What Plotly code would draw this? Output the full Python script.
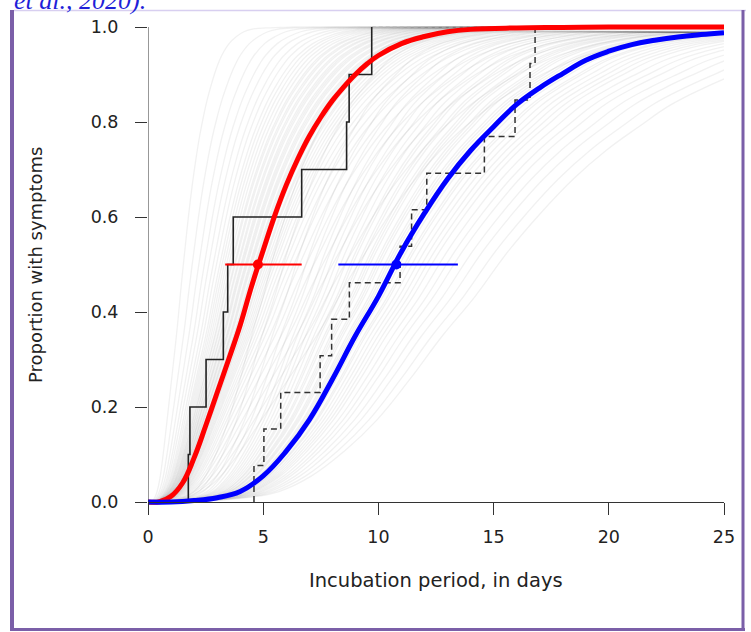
import plotly.graph_objects as go

# ---------------- data ----------------
RED_DAYS = [0, 0.5, 1, 1.5, 2, 2.5, 3, 3.5, 4, 4.5, 5, 5.5, 6, 6.5, 7, 7.5, 8, 8.5, 9, 9.5,
            10, 11, 12, 13, 14, 16, 18, 20, 25]
RED_PROP = [0, 0.0005, 0.012, 0.04, 0.093, 0.16, 0.23, 0.30, 0.372, 0.455, 0.53, 0.603, 0.667,
            0.722, 0.77, 0.81, 0.845, 0.874, 0.9, 0.922, 0.94, 0.965, 0.98, 0.99, 0.995, 0.998,
            0.999, 1.0, 1.0]

BLUE_DAYS = list(range(0, 26))
BLUE_PROP = [0, 0.0, 0.003, 0.009, 0.022, 0.055, 0.107, 0.173, 0.258, 0.35, 0.433, 0.527,
             0.608, 0.68, 0.74, 0.79, 0.837, 0.872, 0.902, 0.93, 0.949, 0.963, 0.972, 0.979,
             0.984, 0.988]

# empirical step functions (day of each jump, proportion after the jump)
SOLID_STEP_DAYS = [1.75, 1.82, 2.52, 3.27, 3.46, 3.7, 6.67, 8.62, 8.73, 9.71]
SOLID_STEP_PROP = [0.1, 0.2, 0.3, 0.4, 0.5, 0.6, 0.7, 0.8, 0.9, 1.0]
DASHED_STEP_DAYS = [4.6, 5.03, 5.76, 7.47, 7.97, 8.74, 10.94, 11.44, 12.1, 14.6, 15.93, 16.58, 16.8]
DASHED_STEP_PROP = [1/13, 2/13, 3/13, 4/13, 5/13, 6/13, 7/13, 8/13, 9/13, 10/13, 11/13, 12/13, 1.0]

# medians with intervals
RED_MEDIAN = 4.77
RED_CI = [3.35, 6.67]
BLUE_MEDIAN = 10.78
BLUE_CI = [8.26, 13.45]
MEDIAN_LEVEL = 0.5

# spread of the faint resampled curves (relative day scale)
HAZE_RED = [0.32, 0.4, 0.46, 0.51, 0.55, 0.59, 0.62, 0.65, 0.67, 0.69, 0.71, 0.73, 0.75, 0.76,
            0.78, 0.79, 0.81, 0.82, 0.84, 0.85, 0.86, 0.88, 0.89, 0.9, 0.92, 0.93, 0.94, 0.96,
            0.97, 0.98, 1.0, 1.01, 1.02, 1.04, 1.05, 1.07, 1.09, 1.11, 1.13, 1.15, 1.18, 1.21,
            1.24, 1.28, 1.32, 1.37, 1.43, 1.5, 1.58, 1.67, 1.78, 1.9]
HAZE_BLUE = [0.5, 0.55, 0.6, 0.64, 0.67, 0.7, 0.72, 0.74, 0.76, 0.78, 0.8, 0.82, 0.83, 0.85,
             0.86, 0.88, 0.89, 0.9, 0.92, 0.93, 0.94, 0.96, 0.97, 0.98, 1.0, 1.01, 1.02, 1.04,
             1.05, 1.07, 1.09, 1.11, 1.13, 1.15, 1.18, 1.21, 1.24, 1.28, 1.32, 1.37, 1.42]

X_TICKS = [0, 5, 10, 15, 20, 25]
Y_TICKS = [0, 0.2, 0.4, 0.6, 0.8, 1.0]
Y_TICK_LABELS = ["0.0", "0.2", "0.4", "0.6", "0.8", "1.0"]
X_TITLE = "Incubation period, in days"
Y_TITLE = "Proportion with symptoms"
CAPTION = "et al., 2020)."

# ---------------- layout geometry ----------------
W, H = 751, 632
ML, MR, MT, MB = 148, 27, 22, 126
PW, PH = W - ML - MR, H - MT - MB
Y_LO, Y_HI = -4 / 475, 1 + 5 / 475


def px_x(p):
    return (p - ML) / PW


def px_y(p):
    return (H - MB - p) / PH


fig = go.Figure()

HAZE_COLOR = "rgba(90,90,90,0.085)"
for f in HAZE_RED:
    xs = [d * f for d in RED_DAYS] + [RED_DAYS[-1]]
    ys = RED_PROP + [RED_PROP[-1]]
    fig.add_trace(go.Scatter(x=xs, y=ys, mode="lines",
                             line=dict(color=HAZE_COLOR, width=1.3, shape="spline", smoothing=1.2),
                             hoverinfo="skip", showlegend=False))
for f in HAZE_BLUE:
    xs = [d * f for d in BLUE_DAYS] + [BLUE_DAYS[-1]]
    ys = BLUE_PROP + [BLUE_PROP[-1]]
    fig.add_trace(go.Scatter(x=xs, y=ys, mode="lines",
                             line=dict(color=HAZE_COLOR, width=1.3, shape="spline", smoothing=1.2),
                             hoverinfo="skip", showlegend=False))

# faint top segment at 1.0
fig.add_trace(go.Scatter(x=[SOLID_STEP_DAYS[-1], DASHED_STEP_DAYS[-1]], y=[1.0, 1.0], mode="lines",
                         line=dict(color="#b8b8b8", width=1, dash="4px,3px"), hoverinfo="skip", showlegend=False))

# step functions
fig.add_trace(go.Scatter(x=[SOLID_STEP_DAYS[0]] + SOLID_STEP_DAYS, y=[0] + SOLID_STEP_PROP, mode="lines",
                         line=dict(color="#222222", width=1.6, shape="hv"), showlegend=False))
fig.add_trace(go.Scatter(x=[DASHED_STEP_DAYS[0]] + DASHED_STEP_DAYS, y=[0] + DASHED_STEP_PROP, mode="lines",
                         line=dict(color="#333333", width=1.5, shape="hv", dash="6px,4px"), showlegend=False))

# fitted curves
fig.add_trace(go.Scatter(x=RED_DAYS, y=RED_PROP, mode="lines",
                         line=dict(color="#ff0000", width=5, shape="spline", smoothing=1.2), showlegend=False))
fig.add_trace(go.Scatter(x=BLUE_DAYS, y=BLUE_PROP, mode="lines",
                         line=dict(color="#0000ff", width=5, shape="spline", smoothing=1.2), showlegend=False))

# medians and intervals
fig.add_trace(go.Scatter(x=RED_CI, y=[MEDIAN_LEVEL] * 2, mode="lines",
                         line=dict(color="#ff0000", width=2), showlegend=False))
fig.add_trace(go.Scatter(x=BLUE_CI, y=[MEDIAN_LEVEL] * 2, mode="lines",
                         line=dict(color="#0000ff", width=2), showlegend=False))
fig.add_trace(go.Scatter(x=[RED_MEDIAN], y=[MEDIAN_LEVEL], mode="markers",
                         marker=dict(color="#ff0000", size=10), showlegend=False))
fig.add_trace(go.Scatter(x=[BLUE_MEDIAN], y=[MEDIAN_LEVEL], mode="markers",
                         marker=dict(color="#0000ff", size=10), showlegend=False))

TICK_FONT = dict(family="DejaVu Sans", size=17.5, color="#222222")
fig.update_layout(
    width=W, height=H,
    margin=dict(l=ML, r=MR, t=MT, b=MB, pad=0),
    paper_bgcolor="white", plot_bgcolor="white",
    xaxis=dict(range=[0, 25], tickvals=X_TICKS, ticks="outside", ticklen=12, tickwidth=1,
               tickcolor="#333333", showline=True, linecolor="#333333", linewidth=1,
               showgrid=False, zeroline=False, anchor="free", position=(0 - Y_LO) / (Y_HI - Y_LO),
               tickfont=TICK_FONT, ticklabelstandoff=7),
    yaxis=dict(range=[Y_LO, Y_HI], tickvals=Y_TICKS, ticktext=Y_TICK_LABELS, ticks="outside",
               ticklen=12, tickwidth=1, tickcolor="#333333", showline=False, showgrid=False,
               zeroline=False, tickfont=TICK_FONT, ticklabelstandoff=13),
)

# y axis line spanning 0..1 only
fig.add_shape(type="line", xref="x", yref="y", x0=0, x1=0, y0=0, y1=1,
              line=dict(color="#333333", width=1))

# axis titles
fig.add_annotation(text=X_TITLE, xref="paper", yref="paper", x=0.5, y=px_y(580),
                   xanchor="center", yanchor="middle", showarrow=False,
                   font=dict(family="DejaVu Sans", size=19.5, color="#222222"))
fig.add_annotation(text=Y_TITLE, xref="paper", yref="paper", x=px_x(35), y=px_y(265),
                   xanchor="center", yanchor="middle", showarrow=False, textangle=-90,
                   font=dict(family="DejaVu Sans", size=18, color="#222222"))

# caption fragment at top
fig.add_annotation(text="<i>" + CAPTION + "</i>", xref="paper", yref="paper", x=px_x(12), y=px_y(0),
                   xanchor="left", yanchor="middle", showarrow=False,
                   font=dict(family="Liberation Serif", size=26, color="#1f1fd8"))

# frame
PURPLE = "#7b5fa8"
fig.add_shape(type="line", xref="paper", yref="paper", x0=px_x(14), x1=px_x(746), y0=px_y(10.5), y1=px_y(10.5),
              line=dict(color="#d8cff0", width=1.5))
fig.add_shape(type="line", xref="paper", yref="paper", x0=px_x(12), x1=px_x(12), y0=px_y(631), y1=px_y(10),
              line=dict(color=PURPLE, width=4))
fig.add_shape(type="line", xref="paper", yref="paper", x0=px_x(10), x1=px_x(745), y0=px_y(629.5), y1=px_y(629.5),
              line=dict(color=PURPLE, width=3))
fig.add_shape(type="line", xref="paper", yref="paper", x0=px_x(743), x1=px_x(743), y0=px_y(631), y1=px_y(10),
              line=dict(color=PURPLE, width=3))

fig.write_html("out.html", config={"displayModeBar": False},
               post_script="document.body.style.margin='0px';")
